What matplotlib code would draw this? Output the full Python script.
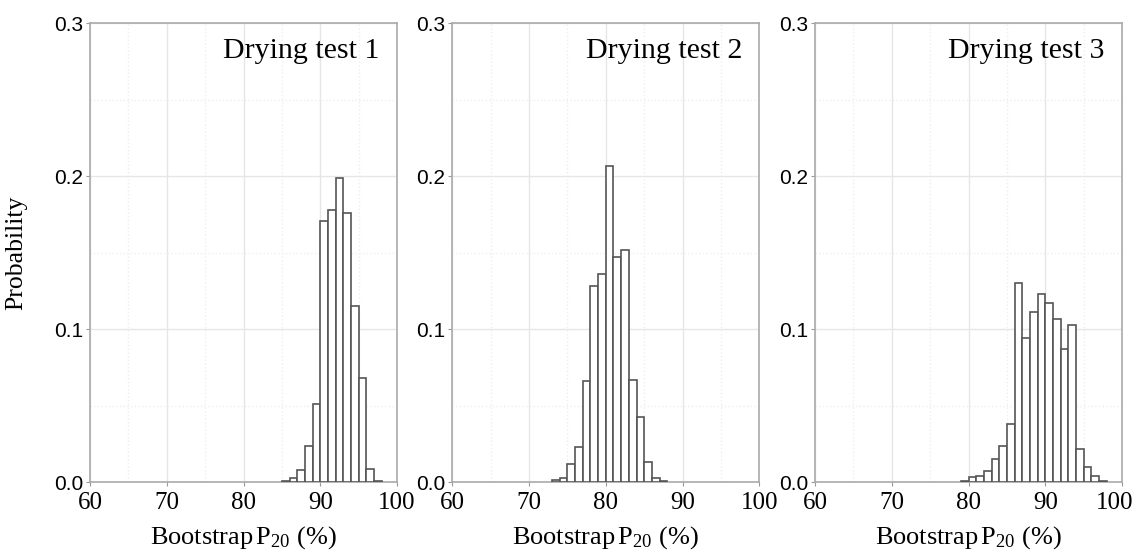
import matplotlib.pyplot as plt
import matplotlib.transforms as mtransforms
from matplotlib.ticker import MultipleLocator

# bin left edges (%) and probabilities for each drying test
bins1 = [85, 86, 87, 88, 89, 90, 91, 92, 93, 94, 95, 96, 97]
prob1 = [0.001, 0.003, 0.008, 0.024, 0.051, 0.171, 0.178, 0.199, 0.176, 0.115, 0.068, 0.009, 0.001]

bins2 = [73, 74, 75, 76, 77, 78, 79, 80, 81, 82, 83, 84, 85, 86, 87]
prob2 = [0.0013, 0.0026, 0.012, 0.023, 0.066, 0.128, 0.136, 0.207, 0.147, 0.152, 0.067, 0.043, 0.013, 0.0026, 0.0009]

bins3 = [79, 80, 81, 82, 83, 84, 85, 86, 87, 88, 89, 90, 91, 92, 93, 94, 95, 96, 97]
prob3 = [0.0007, 0.0033, 0.0044, 0.0076, 0.015, 0.024, 0.038, 0.130, 0.0945, 0.111, 0.123, 0.117,
         0.107, 0.087, 0.103, 0.022, 0.010, 0.0044, 0.0011]

titles = ["Drying test 1", "Drying test 2", "Drying test 3"]
xticks = [60, 70, 80, 90, 100]
yticks = [0.0, 0.1, 0.2, 0.3]

serif = "Liberation Serif"
sans = "Liberation Sans"

plt.rcParams["mathtext.fontset"] = "custom"
plt.rcParams["mathtext.rm"] = serif
plt.rcParams["mathtext.it"] = serif + ":italic"

fig = plt.figure(figsize=(11.38, 5.53), dpi=100)
lefts = [90 / 1138, 452.3 / 1138, 815 / 1138]
data = [(bins1, prob1), (bins2, prob2), (bins3, prob3)]

for i in range(3):
    ax = fig.add_axes([lefts[i], 70.7 / 553, 307 / 1138, 459 / 553])
    b, p = data[i]
    ax.bar(b, p, width=1, align="edge", color="white", edgecolor="#555555", linewidth=1.2, zorder=3)
    ax.set_xlim(60, 100)
    ax.set_ylim(0, 0.3)
    ax.set_xticks(xticks)
    ax.set_yticks(yticks)
    ax.set_xticklabels([str(t) for t in xticks], fontfamily=serif, fontsize=18)
    ax.set_yticklabels(["%.1f" % t for t in yticks], fontfamily=sans, fontsize=15)
    ax.xaxis.set_minor_locator(MultipleLocator(5))
    ax.yaxis.set_minor_locator(MultipleLocator(0.05))
    ax.grid(which="major", color="#e6e6e6", linewidth=1.0, zorder=0)
    ax.grid(which="minor", color="#eeeeee", linewidth=1.0, linestyle=":", zorder=0)
    ax.tick_params(which="major", length=3, color="#999999", pad=2)
    ax.tick_params(axis="x", which="major", pad=4)
    ax.tick_params(which="minor", length=0)
    for s in ax.spines.values():
        s.set_color("#aaaaaa")
        s.set_linewidth(1.2)
    ax.text(0.944, 0.968, titles[i], transform=ax.transAxes, ha="right", va="top",
            fontfamily=serif, fontsize=21.5)
    ax.set_xlabel(r"Bootstrap$\,$P$_{20}$ (%)", fontfamily=serif, fontsize=19, labelpad=7)
    if i == 0:
        ax.set_ylabel("Probability", fontfamily=serif, fontsize=18.5)
        ax.yaxis.set_label_coords(-0.205, 0.5)
    if i == 2:
        # keep the last "100" inside the figure edge
        last = ax.get_xticklabels()[-1]
        last.set_transform(last.get_transform() + mtransforms.ScaledTranslation(-7 / 100, 0, fig.dpi_scale_trans))

fig.savefig("out.png", dpi=100)
